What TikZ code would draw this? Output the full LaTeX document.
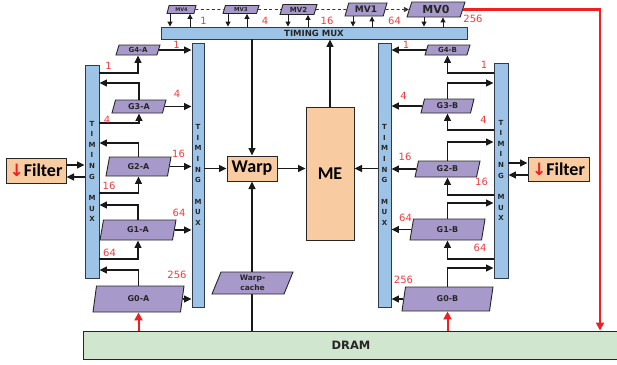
\documentclass[tikz,border=0pt]{standalone}
\usepackage{fontspec}
\setmainfont{DejaVu Sans}
\newfontfamily\cbfont{Carlito}
\newfontfamily\dvfont{DejaVu Sans}
\usetikzlibrary{shapes.geometric,arrows.meta}
\definecolor{muxblue}{HTML}{9DC3E6}
\definecolor{muxline}{HTML}{2F3B4C}
\definecolor{purp}{HTML}{A899CB}
\definecolor{peach}{HTML}{F8CBA0}
\definecolor{dramg}{HTML}{D0E6CE}
\definecolor{lbl}{HTML}{F03C3C}
\definecolor{redl}{HTML}{F02020}
\newcommand\vtm{T\\I\\M\\I\\N\\G\\[11pt]M\\U\\X}
\begin{document}
\begin{tikzpicture}[x=1pt,y=-1pt,
  mux/.style={draw=muxline, line width=0.9pt, fill=muxblue, inner sep=0pt, font=\bfseries\fontsize{7}{10.6}\selectfont, align=center, text=black!85},
  para/.style={trapezium, trapezium left angle=60, trapezium right angle=120, trapezium stretches body, draw=black!85, line width=0.9pt, fill=purp, inner sep=0pt, text=black!85},
  glab/.style={para, font=\bfseries\fontsize{8}{9}\selectfont},
  orangebox/.style={draw=black!85, line width=1pt, fill=peach, inner sep=0pt, font=\cbfont\bfseries\fontsize{18}{19}\selectfont},
  arr/.style={line width=1.3pt, black!90, -{Triangle[length=7.5pt,width=7pt]}},
  arrs/.style={line width=1pt, black!90, -{Triangle[length=5pt,width=5pt]}},
  redarr/.style={line width=2pt, redl, -{Triangle[length=8pt,width=8pt]}},
  num/.style={text=lbl, font=\fontsize{10}{11}\selectfont, inner sep=0pt},
  dashln/.style={line width=0.8pt, black!80, dash pattern=on 3pt off 2.5pt}
]
\useasboundingbox (0,0) rectangle (617,364);

% DRAM
\node[draw=black!85, line width=1pt, fill=dramg, minimum width=536pt, minimum height=28pt, inner sep=0pt, font=\bfseries\fontsize{11.5}{12}\selectfont, text=black!85] (dram) at (351,345) {DRAM};

% timing muxes
\node[mux, minimum width=306pt, minimum height=12pt, font=\bfseries\fontsize{8.5}{9}\selectfont] (topmux) at (314,33) {TIMING MUX};
\node[mux, minimum width=14pt, minimum height=213pt] (a1) at (92,171.5) {\vtm};
\node[mux, minimum width=12pt, minimum height=264pt] (a2) at (198,175) {\vtm};
\node[mux, minimum width=13pt, minimum height=264pt] (b1) at (384.5,175) {\vtm};
\node[mux, minimum width=14pt, minimum height=215pt] (b2) at (501,170.5) {\vtm};

% filters, warp, ME
\node[orangebox, minimum width=60pt, minimum height=25pt] (fl) at (36,170.5) {{\dvfont\bfseries\fontsize{17}{18}\selectfont\textcolor{redl}{↓}}Filter};
\node[orangebox, minimum width=61pt, minimum height=24pt] (fr) at (558.5,169) {{\dvfont\bfseries\fontsize{17}{18}\selectfont\textcolor{redl}{↓}}Filter};
\node[orangebox, minimum width=50pt, minimum height=25pt] (warp) at (252,168.5) {Warp};
\node[orangebox, minimum width=48pt, minimum height=133pt] (me) at (330,173.5) {ME};

% MV boxes
\node[para, minimum width=29pt, minimum height=8pt, font=\bfseries\fontsize{5}{6}\selectfont] (mv4) at (181.5,9.5) {MV4};
\node[para, minimum width=36pt, minimum height=8pt, font=\bfseries\fontsize{5.5}{6}\selectfont] (mv3) at (241,9.5) {MV3};
\node[para, minimum width=37pt, minimum height=10pt, font=\bfseries\fontsize{7}{8}\selectfont] (mv2) at (298.5,9.5) {MV2};
\node[para, minimum width=42pt, minimum height=13pt, font=\bfseries\fontsize{9}{10}\selectfont] (mv1) at (366,9.5) {MV1};
\node[para, minimum width=58pt, minimum height=15pt, font=\bfseries\fontsize{11}{12}\selectfont] (mv0) at (436,9.5) {MV0};

% G boxes left
\node[glab, minimum width=44pt, minimum height=10pt, font=\bfseries\fontsize{7}{8}\selectfont] (g4a) at (138,50) {G4-A};
\node[glab, minimum width=54pt, minimum height=13pt] (g3a) at (139,106.5) {G3-A};
\node[glab, minimum width=65pt, minimum height=19pt] (g2a) at (138.5,166.5) {G2-A};
\node[glab, minimum width=76pt, minimum height=20pt] (g1a) at (138,230) {G1-A};
\node[glab, minimum width=91pt, minimum height=26pt] (g0a) at (138.5,299) {G0-A};
% G boxes right
\node[glab, minimum width=45pt, minimum height=10pt, font=\bfseries\fontsize{7}{8}\selectfont] (g4b) at (447.5,50) {G4-B};
\node[glab, minimum width=53pt, minimum height=14pt] (g3b) at (447.5,106) {G3-B};
\node[glab, minimum width=65pt, minimum height=16pt] (g2b) at (447.5,169) {G2-B};
\node[glab, minimum width=75pt, minimum height=21pt] (g1b) at (447.5,229.5) {G1-B};
\node[glab, minimum width=91pt, minimum height=24pt] (g0b) at (447.5,299) {G0-B};

% warp cache line then box
\draw[arr] (dram.north -| warp.south) -- (warp.south);
\node[para, minimum width=81pt, minimum height=22pt, font=\bfseries\fontsize{7.5}{10}\selectfont, align=center] (wc) at (252.5,283) {Warp-\\cache};

% MV chain
\draw[dashln] (mv4.east) -- (mv3.west);
\draw[dashln] (mv3.east) -- (mv2.west);
\draw[dashln] (mv2.east) -- (mv1.west);
\draw[dashln, -{Triangle[length=5pt,width=5pt]}] (mv1.east) -- (mv0.west);

\foreach \n/\dx/\ux in {mv4/170/190, mv3/228/247, mv2/288/308, mv1/353/372, mv0/424/443} {
  \draw[arrs] (\n.south -| \dx,0) -- (topmux.north -| \dx,0);
  \draw[arrs] (topmux.north -| \ux,0) -- (\n.south -| \ux,0);
}
\node[num] (t1) at (203.5,21) {1};
\node[num] (t4) at (265,21) {4};
\node[num] (t16) at (327,21) {16};
\node[num] (t64) at (394.5,21) {64};
\node[num] (t256) at (473,19) {256};

% centre
\draw[arr] (topmux.south -| warp.north) -- (warp.north);
\draw[arr] (me.north) -- (me.north |- topmux.south);
\draw[arr] (a2.east |- warp.west) -- (warp.west);
\draw[arr] (warp.east) -- (warp.east -| me.west);
\draw[arr] (b1.west |- 0,168.5) -- (me.east |- 0,168.5);

% filters
\draw[arr] (fl.east |- 0,165) -- (a1.west |- 0,165);
\draw[arr] (a1.west |- 0,177) -- (fl.east |- 0,177);
\draw[arr] (b2.east |- 0,163) -- (fr.west |- 0,163);
\draw[arr] (fr.west |- 0,175) -- (b2.east |- 0,175);

% left side
\draw[arr] (a1.east |- 0,73) -| (g4a.south);
\draw[arr] (g4a.east) -- (a2.west |- g4a.east);
\draw[arr] (a1.east |- 0,123) -| (g3a.south);
\draw[arr] (g3a.north) |- (a1.east |- 0,83);
\draw[arr] (g3a.east) -- (a2.west |- g3a.east);
\draw[arr] (a1.east |- 0,193) -| (g2a.south);
\draw[arr] (g2a.north) |- (a1.east |- 0,143);
\draw[arr] (g2a.east) -- (a2.west |- g2a.east);
\draw[arr] (a1.east |- 0,259) -| (g1a.south);
\draw[arr] (g1a.north) |- (a1.east |- 0,205);
\draw[arr] (g1a.east) -- (a2.west |- g1a.east);
\draw[arr] (g0a.north) |- (a1.east |- 0,270);
\draw[arr] (g0a.east) -- (a2.west |- g0a.east);

% right side
\draw[arr] (g4b.west) -- (b1.east |- g4b.west);
\draw[arr] (b2.west |- 0,73) -| (g4b.south);
\draw[arr] (g3b.north) |- (b2.west |- 0,83);
\draw[arr] (g3b.west) -- (b1.east |- g3b.west);
\draw[arr] (b2.west |- 0,130) -| (g3b.south);
\draw[arr] (g2b.north) |- (b2.west |- 0,142);
\draw[arr] (g2b.west) -- (b1.east |- g2b.west);
\draw[arr] (b2.west |- 0,195) -| (g2b.south);
\draw[arr] (g1b.north) |- (b2.west |- 0,203);
\draw[arr] (g1b.west) -- (b1.east |- g1b.west);
\draw[arr] (b2.west |- 0,259) -| (g1b.south);
\draw[arr] (g0b.north) |- (b2.west |- 0,268);
\draw[arr] (g0b.west) -- (b1.east |- g0b.west);

% red
\draw[redarr] (dram.north -| g0a.south) -- (g0a.south);
\draw[redarr] (dram.north -| g0b.south) -- (g0b.south);
\draw[redarr] (mv0.east) -| (dram.north -| 600,0);

% labels left
\node[num] (l1a) at (108.5,65.5) {1};
\node[num] (l1b) at (176.5,45) {1};
\node[num] (l4a) at (107,120) {4};
\node[num] (l4b) at (177,93.5) {4};
\node[num] (l16a) at (109,186) {16};
\node[num] (l16b) at (178.5,154) {16};
\node[num] (l64a) at (109.5,253) {64};
\node[num] (l64b) at (179,212.5) {64};
\node[num] (l256) at (177,275) {256};
% labels right
\node[num] (r1a) at (406,45) {1};
\node[num] (r1b) at (484,65) {1};
\node[num] (r4a) at (403.5,95.5) {4};
\node[num] (r4b) at (483.5,120) {4};
\node[num] (r16a) at (405,157) {16};
\node[num] (r16b) at (481.5,181.5) {16};
\node[num] (r64a) at (405.5,217.5) {64};
\node[num] (r64b) at (480,248) {64};
\node[num] (r256) at (403.5,280) {256};
\end{tikzpicture}
\end{document}
